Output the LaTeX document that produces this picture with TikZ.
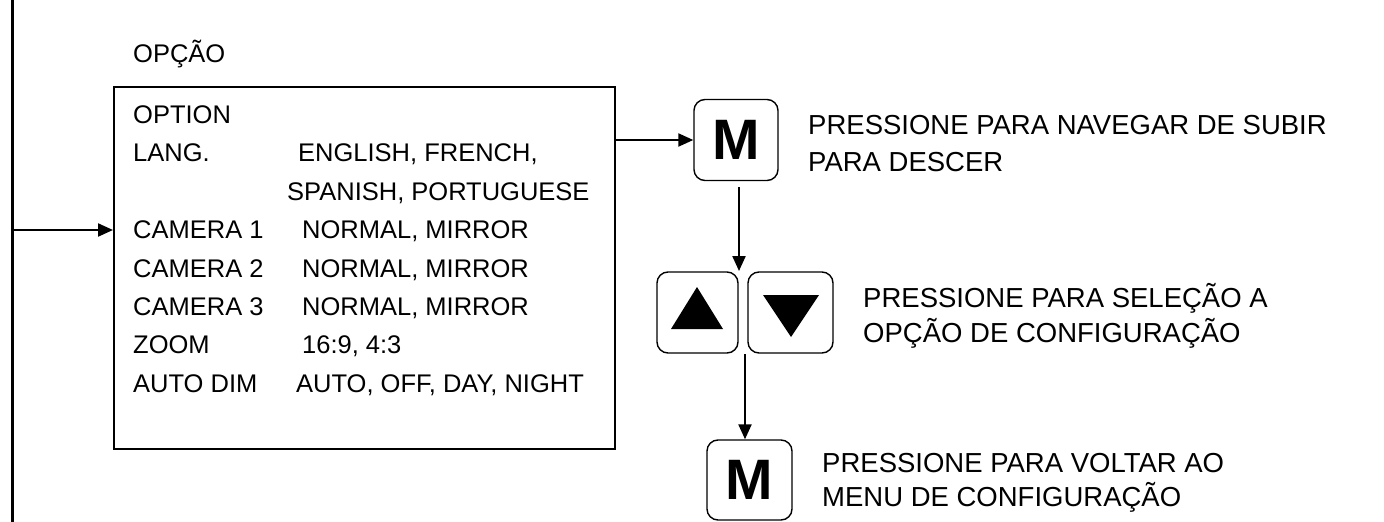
\documentclass[tikz,border=0pt]{standalone}
\usepackage{fontspec}
\setmainfont{Liberation Sans}
\usetikzlibrary{arrows.meta}
\begin{document}
\begin{tikzpicture}[x=1pt,y=-1pt,
  txt/.style={anchor=base west, inner sep=0pt, font=\fontsize{25.5}{30}\selectfont},
  rtxt/.style={anchor=base west, inner sep=0pt, font=\fontsize{27.5}{32}\selectfont},
  menubox/.style={draw, line width=1.8pt, inner sep=0pt},
  btn/.style={draw, line width=1.4pt, rounded corners=11pt, inner sep=0pt},
  mkey/.style={btn, minimum width=84pt, minimum height=81pt, font=\fontsize{57}{60}\selectfont\bfseries},
  conn/.style={line width=2.2pt, -{Triangle[length=15pt,width=13pt]}},
  vline/.style={line width=3pt}]
\useasboundingbox (0,0) rectangle (1384,522);
% vertical bus line
\coordinate (vtop) at (12.5,0);
\coordinate (vbot) at (12.5,522);
\coordinate (vjoin) at (12.5,230);
\draw[vline] (vtop) -- (vbot);
% menu box
\node[menubox, anchor=north west, minimum width=501pt, minimum height=362pt] (box) at (113,86) {};
\node[txt] (title) at (133,62) {OPÇÃO};
\node[txt] (t0) at (133,123) {OPTION};
\node[txt] (t1) at (133,161.5) {LANG.};
\node[txt] (v1) at (298,161.5) {ENGLISH, FRENCH,};
\node[txt] (v1b) at (287,200) {SPANISH, PORTUGUESE};
\node[txt] (t2) at (133,238.5) {CAMERA 1};
\node[txt] (v2) at (302,238.5) {NORMAL, MIRROR};
\node[txt] (t3) at (133,277) {CAMERA 2};
\node[txt] (v3) at (302,277) {NORMAL, MIRROR};
\node[txt] (t4) at (133,315) {CAMERA 3};
\node[txt] (v4) at (302,315) {NORMAL, MIRROR};
\node[txt] (t5) at (133,353.5) {ZOOM};
\node[txt] (v5) at (302,353.5) {16:9, 4:3};
\node[txt] (t6) at (133,392) {AUTO DIM};
\node[txt] (v6) at (296,392) {AUTO, OFF, DAY, NIGHT};
% arrow into box
\draw[conn] (vjoin) -- (vjoin -| box.west);
% buttons
\node[mkey] (m1) at (736,140) {M};
\node[btn, minimum width=81pt, minimum height=81pt] (up) at (697.5,312.5) {};
\node[btn, minimum width=85pt, minimum height=81pt] (down) at (790.5,312.5) {};
\node[mkey, minimum width=85pt, minimum height=80pt] (m2) at (749.5,480) {M};
\fill (671,329) -- (723,329) -- (697,287) -- cycle;
\fill (763,295) -- (819,295) -- (791,337) -- cycle;
% connectors
\draw[conn] (m1.west -| box.east) -- (m1.west);
\coordinate (gtop) at (739,271);
\coordinate (gbot) at (745,354);
\draw[conn] (m1.south -| gtop) ++(0,6) -- (gtop);
\draw[conn] (gbot) -- (m2.north -| gbot);
% descriptions
\node[rtxt] (d1) at (808,134) {PRESSIONE PARA NAVEGAR DE SUBIR};
\node[rtxt] (d1b) at (808,171) {PARA DESCER};
\node[rtxt] (d2) at (863,307) {PRESSIONE PARA SELEÇÃO A};
\node[rtxt] (d2b) at (863,342) {OPÇÃO DE CONFIGURAÇÃO};
\node[rtxt] (d3) at (822,472) {PRESSIONE PARA VOLTAR AO};
\node[rtxt] (d3b) at (822,506) {MENU DE CONFIGURAÇÃO};
\end{tikzpicture}
\end{document}
